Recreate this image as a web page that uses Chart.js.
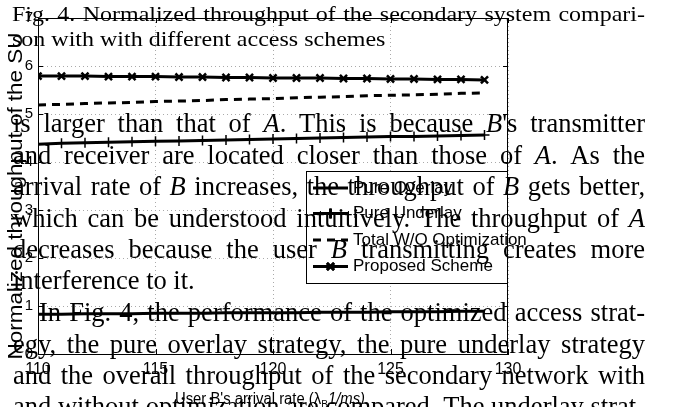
<!DOCTYPE html>
<html>
<head>
<meta charset="utf-8">
<script src="https://cdn.jsdelivr.net/npm/chart.js@4.4.1/dist/chart.umd.min.js"></script>
<style>
  html, body { margin: 0; padding: 0; background: #fff; }
  #wrap { width: 676px; height: 407px; }
</style>
</head>
<body>
<div id="wrap"><canvas id="throughputChart" width="676" height="407"></canvas></div>
<script>
// arrival rate of user B (1/ms)
const arrivalRates = [110, 111, 112, 113, 114, 115, 116, 117, 118, 119, 120, 121, 122, 123, 124, 125, 126, 127, 128, 129];
const pureOverlay = [0.83, 0.83, 0.84, 0.84, 0.84, 0.85, 0.85, 0.85, 0.86, 0.86, 0.86, 0.86, 0.87, 0.87, 0.87, 0.88, 0.88, 0.88, 0.89, 0.89];
const pureUnderlay = [4.37, 4.39, 4.40, 4.41, 4.42, 4.43, 4.44, 4.45, 4.46, 4.47, 4.48, 4.49, 4.50, 4.51, 4.52, 4.53, 4.53, 4.54, 4.55, 4.56];
const totalWithoutOpt = [5.19, 5.20, 5.22, 5.23, 5.24, 5.26, 5.27, 5.28, 5.30, 5.31, 5.32, 5.34, 5.35, 5.36, 5.38, 5.39, 5.40, 5.41, 5.43, 5.44];
const proposedScheme = [5.79, 5.79, 5.79, 5.78, 5.78, 5.78, 5.77, 5.77, 5.76, 5.76, 5.75, 5.75, 5.75, 5.74, 5.74, 5.73, 5.73, 5.72, 5.72, 5.71];
const seriesNames = ['Pure Overlay', 'Pure Underlay', 'Total W/O Optimization', 'Proposed Scheme'];
const xTicks = [110, 115, 120, 125, 130];
const yTicks = [0, 1, 2, 3, 4, 5, 6, 7];

// text of the paper page that sits over the figure
const pageLines = [
    { text: 'Fig. 4. Normalized throughput of the secondary system compari-', x: 12, y: 21, justify: true, caption: true },
    { text: 'son with with different access schemes', x: 12, y: 46, justify: false, caption: true },
    { text: 'is larger than that of _A_. This is because _B_\'s transmitter', x: 13, y: 132, justify: true },
    { text: 'and receiver are located closer than those of _A_. As the', x: 13, y: 163.5, justify: true },
    { text: 'arrival rate of _B_ increases, the throughput of _B_ gets better,', x: 13, y: 195, justify: true },
    { text: 'which can be understood intuitively. The throughput of _A_', x: 13, y: 226.5, justify: true },
    { text: 'decreases because the user _B_ transmitting creates more', x: 13, y: 258, justify: true },
    { text: 'interference to it.', x: 13, y: 288.5, justify: false },
    { text: 'In Fig. 4, the performance of the optimized access strat-', x: 39, y: 321, justify: true },
    { text: 'egy, the pure overlay strategy, the pure underlay strategy', x: 13, y: 352.5, justify: true },
    { text: 'and the overall throughput of the secondary network with', x: 13, y: 384, justify: true },
    { text: 'and without optimization are compared. The underlay strat-', x: 13, y: 415, justify: true }
];

function serif(italic, size) {
    return (italic ? 'italic ' : '') + size + 'px "Liberation Serif", "DejaVu Serif", serif';
}

function runs(word) {
    return word.split('_').map((t, i) => ({ t: t, it: i % 2 === 1 })).filter(r => r.t);
}

function wordWidth(ctx, word, size) {
    let w = 0;
    runs(word).forEach(r => {
        ctx.font = serif(r.it, size);
        w += ctx.measureText(r.t).width;
    });
    return w;
}

function drawPageLine(ctx, line, size, right) {
    const words = line.text.split(' ');
    const widths = words.map(w => wordWidth(ctx, w, size));
    const total = widths.reduce((a, b) => a + b, 0);
    ctx.font = serif(false, size);
    const space = ctx.measureText(' ').width;
    const gap = line.justify ? (right - line.x - total) / (words.length - 1) : space;
    let cx = line.x;
    words.forEach((w, i) => {
        let rx = cx;
        runs(w).forEach(r => {
            ctx.font = serif(r.it, size);
            ctx.fillText(r.t, rx, 0);
            rx += ctx.measureText(r.t).width;
        });
        cx += widths[i] + gap;
    });
}

const overlayPlugin = {
    id: 'overlay',
    afterDraw(chart) {
        const ctx = chart.ctx;
        const area = chart.chartArea;
        const xs = chart.scales.x;
        const ys = chart.scales.y;

        ctx.save();
        ctx.strokeStyle = '#000';
        ctx.lineWidth = 1;
        ctx.setLineDash([]);

        // axes box
        ctx.strokeRect(Math.round(area.left) + 0.5, Math.round(area.top) + 0.5,
            Math.round(area.right - area.left) - 1, Math.round(area.bottom - area.top));

        // inward tick marks
        ctx.beginPath();
        xTicks.forEach(v => {
            const px = Math.round(xs.getPixelForValue(v)) + 0.5;
            ctx.moveTo(px, area.bottom); ctx.lineTo(px, area.bottom - 5);
            ctx.moveTo(px, area.top); ctx.lineTo(px, area.top + 5);
        });
        yTicks.forEach(v => {
            const py = Math.round(ys.getPixelForValue(v)) + 0.5;
            ctx.moveTo(area.left, py); ctx.lineTo(area.left + 5, py);
            ctx.moveTo(area.right, py); ctx.lineTo(area.right - 5, py);
        });
        ctx.stroke();

        // y axis title
        ctx.fillStyle = '#000';
        ctx.font = '20px "Liberation Sans", Arial, sans-serif';
        const yTitle = 'Normalized throughput of the SU';
        const yw = ctx.measureText(yTitle).width;
        ctx.save();
        ctx.translate(22, 196);
        ctx.rotate(-Math.PI / 2);
        ctx.scale(327 / yw, 1);
        ctx.textAlign = 'center';
        ctx.textBaseline = 'alphabetic';
        ctx.fillText(yTitle, 0, 0);
        ctx.restore();

        // x axis title
        const parts = [
            { t: 'User B\'s arrival rate (\u03bb', f: '16px "Liberation Sans Narrow", "Liberation Sans", sans-serif', dy: 0 },
            { t: 'B', f: '11px "Liberation Sans Narrow", "Liberation Sans", sans-serif', dy: 4 },
            { t: '1/ms)', f: 'italic 16px "Liberation Sans Narrow", "Liberation Sans", sans-serif', dy: 0 }
        ];
        let xw = 0;
        parts.forEach(p => { ctx.font = p.f; p.w = ctx.measureText(p.t).width; xw += p.w; });
        ctx.save();
        ctx.translate(175, 404);
        ctx.scale(190 / xw, 1);
        ctx.textAlign = 'left';
        let px = 0;
        parts.forEach(p => { ctx.font = p.f; ctx.fillText(p.t, px, p.dy); px += p.w; });
        ctx.restore();

        // legend
        const lx = 306.5, ly = 171.5, lw = 201, lh = 112;
        ctx.fillStyle = '#fff';
        ctx.fillRect(lx, ly, lw, lh);
        ctx.strokeRect(lx, ly, lw, lh);
        const rowsY = [188, 213.5, 240, 266.5];
        chart.data.datasets.forEach((ds, i) => {
            const y = rowsY[i];
            ctx.save();
            ctx.strokeStyle = '#000';
            ctx.lineWidth = ds.borderWidth;
            ctx.setLineDash(ds.borderDash || []);
            ctx.beginPath();
            ctx.moveTo(313, y);
            ctx.lineTo(348, y);
            ctx.stroke();
            ctx.setLineDash([]);
            if (ds.pointRadius > 0) {
                Chart.helpers.drawPoint(ctx, {
                    pointStyle: ds.pointStyle, radius: ds.pointRadius, borderWidth: ds.pointBorderWidth, rotation: 0
                }, 330.5, y);
                ctx.lineWidth = ds.pointBorderWidth;
                ctx.stroke();
            }
            ctx.restore();
            ctx.fillStyle = '#000';
            ctx.font = '17px "Liberation Sans Narrow", "Liberation Sans", sans-serif';
            ctx.textBaseline = 'middle';
            ctx.textAlign = 'left';
            ctx.fillText(ds.label, 353, y);
        });

        // page text on top
        ctx.fillStyle = '#000';
        ctx.textBaseline = 'alphabetic';
        ctx.textAlign = 'left';
        pageLines.forEach(line => {
            ctx.save();
            ctx.translate(0, line.y);
            if (line.caption) {
                ctx.scale(1, 0.87);
                drawPageLine(ctx, line, 24, 645);
            } else {
                drawPageLine(ctx, line, 26.5, 645);
            }
            ctx.restore();
        });
        ctx.restore();
    }
};

function points(values) {
    return arrivalRates.map((x, i) => ({ x: x, y: values[i] }));
}

const ctx = document.getElementById('throughputChart');
new Chart(ctx, {
    type: 'line',
    data: {
        datasets: [{
            label: seriesNames[0],
            data: points(pureOverlay),
            borderColor: '#000',
            borderWidth: 3,
            pointRadius: 0
        }, {
            label: seriesNames[1],
            data: points(pureUnderlay),
            borderColor: '#000',
            borderWidth: 3,
            pointStyle: 'cross',
            pointRadius: 5,
            pointBorderWidth: 1.5,
            pointBorderColor: '#000'
        }, {
            label: seriesNames[2],
            data: points(totalWithoutOpt),
            borderColor: '#000',
            borderWidth: 3,
            borderDash: [8, 6],
            pointRadius: 0
        }, {
            label: seriesNames[3],
            data: points(proposedScheme),
            borderColor: '#000',
            borderWidth: 3,
            pointStyle: 'crossRot',
            pointRadius: 5,
            pointBorderWidth: 2.5,
            pointBorderColor: '#000'
        }]
    },
    options: {
        responsive: false,
        animation: false,
        devicePixelRatio: 1,
        layout: { padding: { top: 18, right: 168, left: 0, bottom: 0 } },
        plugins: {
            legend: { display: false },
            tooltip: { enabled: false }
        },
        scales: {
            x: {
                type: 'linear',
                min: 110,
                max: 130,
                afterBuildTicks: s => { s.ticks = xTicks.map(v => ({ value: v })); },
                afterFit: s => { s.height = 53; },
                ticks: {
                    color: '#000',
                    padding: 6,
                    maxRotation: 0,
                    font: { family: '"Liberation Sans Narrow", "Liberation Sans", sans-serif', size: 16 }
                },
                grid: { color: '#aaa', drawTicks: false },
                border: { color: '#000', dash: [1, 3] }
            },
            y: {
                min: 0,
                max: 7,
                afterBuildTicks: s => { s.ticks = yTicks.map(v => ({ value: v })); },
                afterFit: s => { s.width = 38; },
                ticks: {
                    color: '#000',
                    padding: 5,
                    font: { family: '"Liberation Sans", Arial, sans-serif', size: 15 }
                },
                grid: { color: '#aaa', drawTicks: false },
                border: { color: '#000', dash: [1, 3] }
            }
        }
    },
    plugins: [overlayPlugin]
});
</script>
</body>
</html>
